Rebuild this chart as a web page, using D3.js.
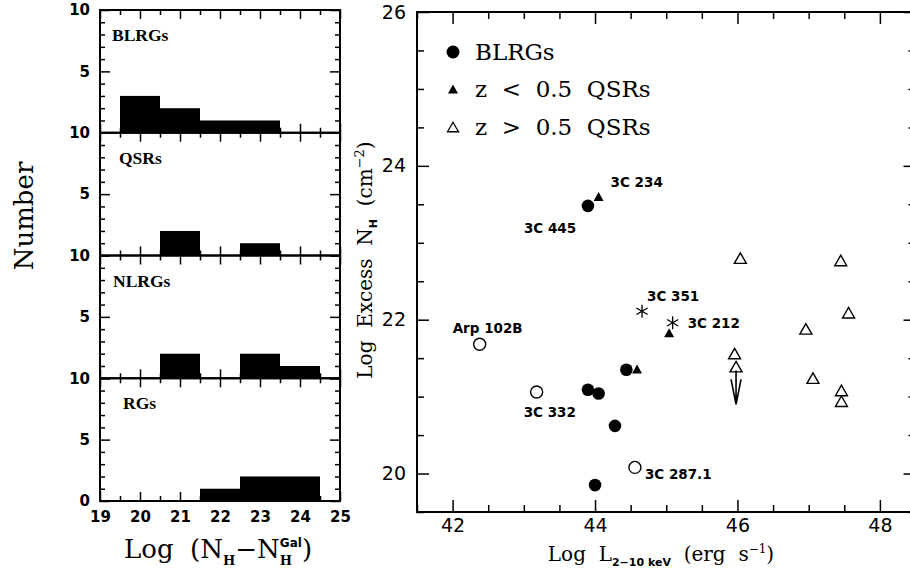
<!DOCTYPE html>
<html>
<head>
<meta charset="utf-8">
<script src="https://cdn.jsdelivr.net/npm/d3@7"></script>
<style>
  body { margin: 0; background: #fff; }
  text { white-space: pre; }
</style>
</head>
<body>
<div class="board"></div>
<script>
/*
=================================
DATA
=================================
*/
// histogram bins (centre of each 1-dex bin)
var histBins = [19, 20, 21, 22, 23, 24];
var histGroups = ['BLRGs', 'QSRs', 'NLRGs', 'RGs'];
var blrgCounts = [0, 3, 2, 1, 1, 0];
var qsrCounts  = [0, 0, 2, 0, 1, 0];
var nlrgCounts = [0, 0, 2, 0, 2, 1];
var rgCounts   = [0, 0, 0, 1, 2, 2];
var histXTicks = [19, 20, 21, 22, 23, 24, 25];

// scatter: log L(2-10 keV) vs log excess NH
var blrgLx = [43.90, 44.44, 43.90, 44.05, 44.28, 44.00];
var blrgNh = [23.48, 21.35, 21.09, 21.04, 20.62, 19.85];
var qsrLowLx = [44.05, 44.59, 45.04];
var qsrLowNh = [23.60, 21.36, 21.83];
var qsrHighLx = [46.04, 47.45, 47.56, 46.96, 45.96, 45.98, 47.06, 47.46, 47.46];
var qsrHighNh = [22.80, 22.77, 22.09, 21.88, 21.56, 21.39, 21.24, 21.08, 20.94];
var starLx = [44.66, 45.09];
var starNh = [22.11, 21.96];
var openLx = [42.38, 43.18, 44.56];
var openNh = [21.68, 21.06, 20.08];
// upper limit arrow (from, to)
var limitLx = [45.98];
var limitNh = [21.39, 20.90];

var srcNames = ['3C 234', '3C 445', '3C 351', '3C 212', 'Arp 102B', '3C 332', '3C 287.1'];
var srcLx = [44.05, 43.90, 44.66, 45.09, 42.38, 43.18, 44.56];
var srcNh = [23.60, 23.48, 22.11, 21.96, 21.68, 21.06, 20.08];

var legendNames = ['BLRGs', 'z  <  0.5  QSRs', 'z  >  0.5  QSRs'];
var lxTicks = [42, 44, 46, 48];
var nhTicks = [20, 22, 24, 26];


/*
=================================
CONTAINER
=================================
*/
var svg = d3.select('.board').append('svg')
  .attr('width', 910)
  .attr('height', 573)
  .style('font-family', 'DejaVu Sans');


/*
=================================
HELPERS
=================================
*/
var drawTicks = function(g, axisFn, scale, values, len, fmt, pad) {
  var ax = axisFn(scale).tickValues(values).tickSize(-len)
    .tickPadding(pad).tickFormat(fmt);
  g.call(ax);
  g.select('.domain').remove();
  g.attr('font-family', null).attr('font-size', null);
  g.selectAll('line').attr('stroke', '#000').attr('stroke-width', 1.5);
  g.selectAll('text').attr('fill', '#000');
  return g;
};

var triPath = function(w, h) {
  return 'M0,' + (-h / 2) + 'L' + (w / 2) + ',' + (h / 2) + 'L' + (-w / 2) + ',' + (h / 2) + 'Z';
};

var starPath = function(r) {
  var p = '';
  [90, 30, -30].forEach(function(a) {
    var t = a * Math.PI / 180;
    p += 'M' + (r * Math.cos(t)) + ',' + (-r * Math.sin(t)) +
         'L' + (-r * Math.cos(t)) + ',' + (r * Math.sin(t));
  });
  return p;
};


/*
=================================
LEFT: STACKED HISTOGRAMS
=================================
*/
var histX = d3.scaleLinear().domain([19, 25]).range([100, 340]);
var allCounts = [blrgCounts, qsrCounts, nlrgCounts, rgCounts];
var panelTop = 10;
var panelH = 122.75;
var panelLabelX = [112, 119, 113, 123];

allCounts.forEach(function(counts, i) {
  var top = panelTop + i * panelH;
  var y = d3.scaleLinear().domain([0, 10]).range([top + panelH, top]);
  var g = svg.append('g');

  g.selectAll('rect.bar')
    .data(histBins.map(function(b, j) { return { c: b, n: counts[j] }; })
      .filter(function(d) { return d.n > 0; }))
    .enter().append('rect')
    .attr('class', 'bar')
    .attr('x', function(d) { return histX(d.c - 0.5); })
    .attr('width', function(d) { return histX(d.c + 0.5) - histX(d.c - 0.5); })
    .attr('y', function(d) { return y(d.n); })
    .attr('height', function(d) { return y(0) - y(d.n); })
    .attr('fill', '#000');

  var minorX = d3.range(19.5, 25, 1);
  var minorY = d3.range(0, 11, 1).filter(function(v) { return v % 5 !== 0; });
  var yLabels = i === 3 ? [0, 5, 10] : [5, 10];

  [[d3.axisBottom, y(0)], [d3.axisTop, y(10)]].forEach(function(a) {
    drawTicks(g.append('g').attr('transform', 'translate(0,' + a[1] + ')'),
      a[0], histX, minorX, 5, '', 0);
    var mj = drawTicks(g.append('g').attr('transform', 'translate(0,' + a[1] + ')'),
      a[0], histX, histXTicks, 9, d3.format('d'), 10);
    if (a[0] === d3.axisTop || i !== 3) mj.selectAll('text').remove();
  });

  [[d3.axisLeft, histX(19)], [d3.axisRight, histX(25)]].forEach(function(a) {
    drawTicks(g.append('g').attr('transform', 'translate(' + a[1] + ',0)'),
      a[0], y, minorY, 5, '', 0);
    var mj = drawTicks(g.append('g').attr('transform', 'translate(' + a[1] + ',0)'),
      a[0], y, [0, 5, 10], 10, d3.format('d'), 10);
    mj.selectAll('text').filter(function(d) {
      return a[0] === d3.axisRight || yLabels.indexOf(d) < 0;
    }).remove();
  });

  g.selectAll('.tick text')
    .attr('font-family', 'DejaVu Sans')
    .attr('font-weight', 'bold')
    .attr('font-size', 15);

  g.append('rect')
    .attr('x', histX(19)).attr('y', top)
    .attr('width', histX(25) - histX(19)).attr('height', panelH)
    .attr('fill', 'none').attr('stroke', '#000').attr('stroke-width', 2);

  g.append('text')
    .attr('x', panelLabelX[i]).attr('y', top + 31)
    .attr('font-family', 'Liberation Serif')
    .attr('font-weight', 'bold')
    .attr('font-size', 17.5)
    .text(histGroups[i]);
});

svg.append('text')
  .attr('transform', 'translate(33,216) rotate(-90)')
  .attr('text-anchor', 'middle')
  .attr('font-family', 'DejaVu Serif')
  .attr('font-size', 26)
  .text('Number');

// x label with stacked sub/superscript
var hx = svg.append('text')
  .attr('x', 218).attr('y', 558)
  .attr('text-anchor', 'middle')
  .attr('font-family', 'DejaVu Serif')
  .attr('font-size', 26);
hx.append('tspan').text('Log  (N');
hx.append('tspan').attr('dy', 7).attr('font-size', 13).attr('font-weight', 'bold').text('H');
hx.append('tspan').attr('dy', -7).text('\u2212N');
var gal = hx.append('tspan').attr('dy', -11).attr('font-size', 12)
  .attr('font-family', 'DejaVu Sans').attr('font-weight', 'bold').text('Gal');
var wGal = gal.node().getComputedTextLength();
var subH = hx.append('tspan').attr('dx', -wGal).attr('dy', 18).attr('font-size', 13)
  .attr('font-weight', 'bold').text('H');
var wH = subH.node().getComputedTextLength();
hx.append('tspan').attr('dx', wGal - wH).attr('dy', -7).text(')');


/*
=================================
RIGHT: SCATTER
=================================
*/
var lx = d3.scaleLinear().domain([41.5, 48.5]).range([417, 915.5]);
var ny = d3.scaleLinear().domain([19.5, 26]).range([512, 12]);
var sg = svg.append('g');

var lxMinor = d3.range(41.5, 48.51, 0.5).filter(function(v) { return v % 2 !== 0; });
var nhMinor = d3.range(19.5, 26.01, 0.5).filter(function(v) { return v % 2 !== 0; });

[[d3.axisBottom, ny(19.5)], [d3.axisTop, ny(26)]].forEach(function(a) {
  drawTicks(sg.append('g').attr('transform', 'translate(0,' + a[1] + ')'),
    a[0], lx, lxMinor, 7, '', 0);
  var mj = drawTicks(sg.append('g').attr('transform', 'translate(0,' + a[1] + ')'),
    a[0], lx, lxTicks, 12, d3.format('d'), 7);
  if (a[0] === d3.axisTop) mj.selectAll('text').remove();
});
[[d3.axisLeft, lx(41.5)], [d3.axisRight, lx(48.5)]].forEach(function(a) {
  drawTicks(sg.append('g').attr('transform', 'translate(' + a[1] + ',0)'),
    a[0], ny, nhMinor, 7, '', 0);
  var mj = drawTicks(sg.append('g').attr('transform', 'translate(' + a[1] + ',0)'),
    a[0], ny, nhTicks, 12, d3.format('d'), 11);
  if (a[0] === d3.axisRight) mj.selectAll('text').remove();
});
sg.selectAll('.tick text')
  .attr('font-family', 'DejaVu Sans')
  .attr('font-size', 19);

sg.append('rect')
  .attr('x', lx(41.5)).attr('y', ny(26))
  .attr('width', lx(48.5) - lx(41.5)).attr('height', ny(19.5) - ny(26))
  .attr('fill', 'none').attr('stroke', '#000').attr('stroke-width', 2);

// upper limit arrow
var ax0 = lx(limitLx[0]);
var ay0 = ny(limitNh[0]) + 4;
var ay1 = ny(limitNh[1]);
sg.append('path')
  .attr('d', 'M' + ax0 + ',' + ay0 + 'L' + ax0 + ',' + ay1 +
    'M' + (ax0 - 5) + ',' + (ay1 - 25) + 'L' + ax0 + ',' + ay1 + 'L' + (ax0 + 5) + ',' + (ay1 - 25))
  .attr('fill', 'none').attr('stroke', '#000').attr('stroke-width', 1.6);

// open circles
sg.selectAll('circle.open').data(openLx).enter().append('circle')
  .attr('class', 'open')
  .attr('cx', function(d) { return lx(d); })
  .attr('cy', function(d, i) { return ny(openNh[i]); })
  .attr('r', 6).attr('fill', '#fff').attr('stroke', '#000').attr('stroke-width', 1.4);

// filled circles
sg.selectAll('circle.blrg').data(blrgLx).enter().append('circle')
  .attr('class', 'blrg')
  .attr('cx', function(d) { return lx(d); })
  .attr('cy', function(d, i) { return ny(blrgNh[i]); })
  .attr('r', 6.3).attr('fill', '#000');

// z < 0.5 QSRs
sg.selectAll('path.qlo').data(qsrLowLx).enter().append('path')
  .attr('class', 'qlo')
  .attr('transform', function(d, i) { return 'translate(' + lx(d) + ',' + ny(qsrLowNh[i]) + ')'; })
  .attr('d', triPath(10, 9)).attr('fill', '#000');

// z > 0.5 QSRs
sg.selectAll('path.qhi').data(qsrHighLx).enter().append('path')
  .attr('class', 'qhi')
  .attr('transform', function(d, i) { return 'translate(' + lx(d) + ',' + ny(qsrHighNh[i]) + ')'; })
  .attr('d', triPath(12, 10.5)).attr('fill', 'none')
  .attr('stroke', '#000').attr('stroke-width', 1.4).attr('stroke-linejoin', 'miter');

// asterisks
sg.selectAll('path.star').data(starLx).enter().append('path')
  .attr('class', 'star')
  .attr('transform', function(d, i) { return 'translate(' + lx(d) + ',' + ny(starNh[i]) + ')'; })
  .attr('d', starPath(6.5)).attr('stroke', '#000').attr('stroke-width', 1.3);

// source names (offset from their point, px)
var nameDx = [12, -64, 5, 15, -27, -13, 10];
var nameDy = [-15, 22, -15, 0, -16, 20, 7];
sg.selectAll('text.src').data(srcNames).enter().append('text')
  .attr('class', 'src')
  .attr('x', function(d, i) { return lx(srcLx[i]) + nameDx[i]; })
  .attr('y', function(d, i) { return ny(srcNh[i]) + nameDy[i]; })
  .attr('dominant-baseline', 'central')
  .attr('font-family', 'DejaVu Sans')
  .attr('font-weight', 'bold')
  .attr('font-size', 13.5)
  .text(function(d) { return d; });

// legend
var legY = [52, 89, 127];
var legG = sg.append('g');
legG.append('circle').attr('cx', 453).attr('cy', legY[0]).attr('r', 6.5).attr('fill', '#000');
legG.append('path').attr('transform', 'translate(453,' + legY[1] + ')')
  .attr('d', triPath(10, 9)).attr('fill', '#000');
legG.append('path').attr('transform', 'translate(453,' + legY[2] + ')')
  .attr('d', triPath(11, 9.5)).attr('fill', 'none').attr('stroke', '#000').attr('stroke-width', 1.3);
legG.selectAll('text').data(legendNames).enter().append('text')
  .attr('x', 475)
  .attr('y', function(d, i) { return legY[i] + 8; })
  .attr('font-family', 'DejaVu Serif')
  .attr('font-size', 23)
  .text(function(d) { return d; });

// axis titles
var yt = svg.append('text')
  .attr('transform', 'translate(372,260) rotate(-90)')
  .attr('text-anchor', 'middle')
  .attr('font-family', 'DejaVu Serif')
  .attr('font-size', 20);
yt.append('tspan').text('Log  Excess  N');
yt.append('tspan').attr('dy', 5).attr('font-size', 11).attr('font-family', 'DejaVu Sans')
  .attr('font-weight', 'bold').text('H');
yt.append('tspan').attr('dy', -5).text('  (cm');
yt.append('tspan').attr('dy', -8).attr('font-size', 13).text('\u22122');
yt.append('tspan').attr('dy', 8).text(')');

var xt = svg.append('text')
  .attr('x', 661).attr('y', 561)
  .attr('text-anchor', 'middle')
  .attr('font-family', 'DejaVu Serif')
  .attr('font-size', 20);
xt.append('tspan').text('Log  L');
xt.append('tspan').attr('dy', 5).attr('font-size', 11).attr('font-family', 'DejaVu Sans')
  .attr('font-weight', 'bold').text('2\u221210 keV');
xt.append('tspan').attr('dy', -5).text('  (erg  s');
xt.append('tspan').attr('dy', -8).attr('font-size', 12).text('\u22121');
xt.append('tspan').attr('dy', 8).text(')');
</script>
</body>
</html>
